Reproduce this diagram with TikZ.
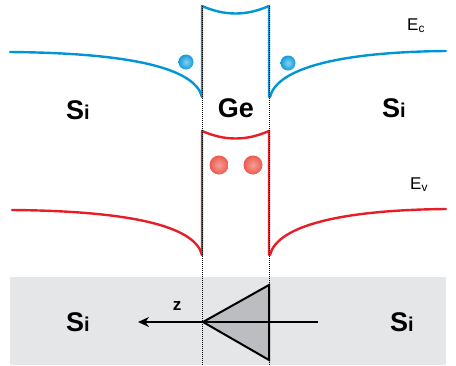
\documentclass[tikz,border=0pt]{standalone}
\usepackage{fontspec}
\setmainfont{Liberation Sans}
\usetikzlibrary{arrows.meta}
\definecolor{ecblue}{RGB}{0,150,214}
\definecolor{evred}{RGB}{230,30,40}
\definecolor{boxgray}{RGB}{229,230,231}
\definecolor{trigray}{RGB}{188,189,192}
\definecolor{ballred}{RGB}{236,90,80}
\definecolor{ballredin}{RGB}{248,160,150}
\definecolor{ballbluein}{RGB}{130,210,245}
\definecolor{ballblue}{RGB}{20,155,215}
\tikzset{
  band/.style={line width=2.4pt, line cap=round, line join=round},
  ecline/.style={band, draw=ecblue},
  evline/.style={band, draw=evred},
  guide/.style={line width=0.8pt, black, dash pattern=on 1pt off 1pt},
  electron/.style={circle, inner sep=0pt, minimum size=15pt, shading=radial, inner color=ballbluein, outer color=ballblue},
  hole/.style={circle, inner sep=0pt, minimum size=19pt, shading=radial, inner color=ballredin, outer color=ballred},
  mat/.style={font=\bfseries\fontsize{27}{28}\selectfont, inner sep=0pt},
  elab/.style={font=\fontsize{17}{19}\selectfont, inner sep=0pt},
}
\newcommand{\SiLabel}{S{\fontsize{20}{21}\selectfont i}}
\begin{document}
\begin{tikzpicture}[x=1pt,y=-1pt]
\useasboundingbox (0,0) rectangle (456,365);
% gray box
\fill[boxgray] (10,277) rectangle (446,365);
% conduction band
\draw[ecline] (10,52) .. controls (130,53) and (195,68) .. (202,97);
\draw[ecline] (270,97) .. controls (277,68) and (340,52) .. (446,51);
\draw[ecline] (202,97) -- (202,6) .. controls (225,16) and (246,16) .. (269,6) -- (269,97);
% valence band
\draw[evline] (12,210) .. controls (130,211) and (195,226) .. (202,255);
\draw[evline] (270,255) .. controls (277,226) and (340,210) .. (446,209);
\draw[evline] (202,255) -- (202,131) .. controls (225,141) and (246,141) .. (269,131) -- (269,255);
% guide lines
\draw[guide] (202,6) -- (202,365);
\draw[guide] (269,6) -- (269,365);
% carriers
\node[electron] (e1) at (186,62) {};
\node[electron] (e2) at (288,63) {};
\node[hole] (h1) at (219,165) {};
\node[hole] (h2) at (253,165) {};
% labels
\node[mat] (si1) at (78,110) {\SiLabel};
\node[mat] (ge) at (236,108) {Ge};
\node[mat] (si2) at (394,108) {\SiLabel};
\node[mat] (si3) at (78,322) {\SiLabel};
\node[mat] (si4) at (402,322) {\SiLabel};
\node[elab, anchor=base west] (ec) at (407,30) {E\textsubscript{c}};
\node[elab, anchor=base west] (ev) at (410,189) {E\textsubscript{v}};
% triangle and axis
\coordinate (apex) at (203,322);
\coordinate (ttop) at (269,285);
\coordinate (tbot) at (269,360);
\filldraw[fill=trigray, draw=black, line width=2pt, line join=miter] (apex) -- (ttop) -- (tbot) -- cycle;
\coordinate (zstart) at (318,322);
\coordinate (zend) at (138,322);
\draw[line width=2pt, -{Stealth[length=11pt,width=10pt]}] (zstart) -- (zend);
\node[font=\bfseries\fontsize{17}{18}\selectfont, inner sep=0pt] (z) at (177,306) {z};
\end{tikzpicture}
\end{document}
